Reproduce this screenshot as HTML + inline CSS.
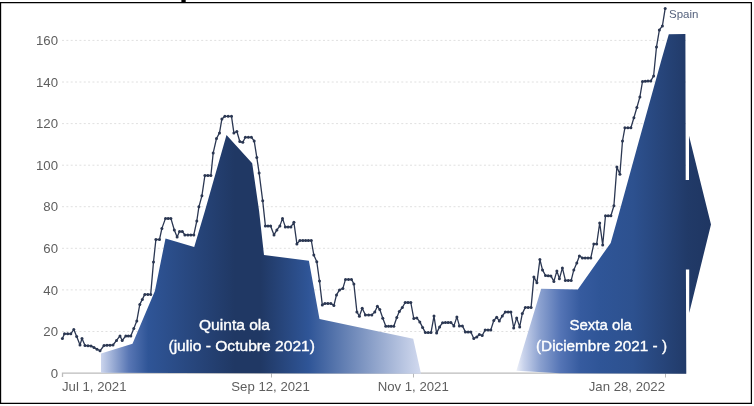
<!DOCTYPE html>
<html><head><meta charset="utf-8"><title>Spain</title>
<style>
html,body{margin:0;padding:0;background:#fff;}
body{width:754px;height:406px;overflow:hidden;position:relative;font-family:"Liberation Sans",sans-serif;}
svg{position:absolute;left:0;top:0;display:block;}
.ax text{font-family:"Liberation Sans",sans-serif;font-size:13.2px;fill:#5e5e5e;}
.wave text{font-family:"Liberation Sans",sans-serif;fill:#fff;stroke:#fff;stroke-width:0.35px;}
</style></head><body>
<svg width="754" height="406" viewBox="0 0 754 406">
<defs>
<linearGradient id="g1" gradientUnits="userSpaceOnUse" x1="100" y1="0" x2="421" y2="0">
<stop offset="0" stop-color="#cfd8ef"/>
<stop offset="0.09" stop-color="#5876b4"/>
<stop offset="0.15" stop-color="#2f5597"/>
<stop offset="0.42" stop-color="#203864"/>
<stop offset="0.5" stop-color="#203864"/>
<stop offset="0.65" stop-color="#2f5597"/>
<stop offset="1" stop-color="#d2daef"/>
</linearGradient>
<linearGradient id="g2" gradientUnits="userSpaceOnUse" x1="516" y1="0" x2="711" y2="0">
<stop offset="0" stop-color="#eef1f9"/>
<stop offset="0.04" stop-color="#c8d2eb"/>
<stop offset="0.125" stop-color="#8aa0cf"/>
<stop offset="0.23" stop-color="#5474b5"/>
<stop offset="0.33" stop-color="#365b9f"/>
<stop offset="0.43" stop-color="#2f5597"/>
<stop offset="0.6" stop-color="#2d518f"/>
<stop offset="0.88" stop-color="#213a68"/>
<stop offset="1" stop-color="#1f3662"/>
</linearGradient>
</defs>
<rect x="0" y="0" width="754" height="406" fill="#fff"/>
<g stroke="#e0e0e0" stroke-width="1" stroke-dasharray="2,2.35" fill="none"><line x1="62" x2="686" y1="331.5" y2="331.5"/><line x1="62" x2="686" y1="289.9" y2="289.9"/><line x1="62" x2="686" y1="248.3" y2="248.3"/><line x1="62" x2="686" y1="206.7" y2="206.7"/><line x1="62" x2="686" y1="165.2" y2="165.2"/><line x1="62" x2="686" y1="123.6" y2="123.6"/><line x1="62" x2="686" y1="82.0" y2="82.0"/><line x1="62" x2="686" y1="40.4" y2="40.4"/></g>
<g class="ax"><text x="58" y="377.7" text-anchor="end">0</text><text x="58" y="336.1" text-anchor="end">20</text><text x="58" y="294.5" text-anchor="end">40</text><text x="58" y="252.9" text-anchor="end">60</text><text x="58" y="211.3" text-anchor="end">80</text><text x="58" y="169.8" text-anchor="end">100</text><text x="58" y="128.2" text-anchor="end">120</text><text x="58" y="86.6" text-anchor="end">140</text><text x="58" y="45.0" text-anchor="end">160</text>
<text x="62" y="391">Jul 1, 2021</text>
<text x="270.5" y="391" text-anchor="middle">Sep 12, 2021</text>
<text x="413.2" y="391" text-anchor="middle">Nov 1, 2021</text>
<text x="665" y="391" text-anchor="end">Jan 28, 2022</text>
</g>
<path d="M62.5,377 V373.1 H686" stroke="#bcbcbc" stroke-width="1.3" fill="none"/>
<g stroke="#b8b8b8" stroke-width="1"><line x1="271.5" x2="271.5" y1="373" y2="377.5"/><line x1="413.5" x2="413.5" y1="373" y2="377.5"/><line x1="665.5" x2="665.5" y1="373" y2="377.5"/></g>
<polygon points="101.0,372.8 101.0,353.4 132.5,343.7 154.9,291.0 165.5,238.5 194.2,246.9 204.9,211.0 226.5,135.0 252.2,163.3 259.1,211.0 264.0,254.9 308.9,260.8 319.5,318.9 413.2,338.8 421.0,373.8" fill="url(#g1)"/>
<polygon points="560.0,373.2 516.4,370.8 541.2,288.8 577.8,289.4 610.7,242.9 616.9,221.0 638.9,141.0 661.4,60.0 668.8,34.2 685.4,33.9 685.7,180.0 689.0,180.0 689.0,135.8 711.0,224.5 689.2,313.0 689.2,269.6 685.9,269.6 686.3,373.8" fill="url(#g2)"/>
<path d="M62.4,338.5 L64.5,333.8 L70.8,333.8 L73.8,329.5 L76.7,336.5 L80.0,344.9 L82.0,338.5 L85.0,345.5 L91.0,345.9 L100.0,350.8 L104.0,345.5 L113.0,345.0 L120.0,335.9 L122.2,340.5 L125.8,335.9 L130.8,335.9 L136.8,320.9 L139.8,304.4 L144.8,294.4 L150.7,294.4 L153.5,261.9 L155.9,239.5 L159.5,239.5 L161.9,228.4 L165.5,218.4 L170.9,218.4 L174.3,230.0 L177.1,236.9 L179.5,231.5 L182.3,231.5 L184.9,234.9 L193.8,234.9 L196.8,221.0 L198.9,206.8 L201.9,195.8 L204.9,175.5 L210.9,175.5 L213.2,152.9 L216.5,138.5 L219.5,132.9 L221.9,118.9 L224.9,116.3 L231.5,116.3 L233.9,132.9 L236.9,131.5 L239.8,141.5 L242.8,142.3 L245.4,137.3 L251.4,137.3 L254.2,140.9 L256.8,157.4 L259.1,172.9 L262.7,200.8 L265.4,225.9 L270.6,225.9 L274.0,234.9 L276.9,229.9 L279.9,225.9 L282.5,218.4 L285.3,226.9 L290.9,226.9 L293.9,222.3 L296.9,243.9 L299.9,240.5 L311.3,240.5 L313.8,254.9 L316.8,261.8 L319.5,281.0 L322.3,304.9 L324.9,303.5 L330.9,303.5 L333.9,305.5 L336.5,294.9 L339.5,289.9 L342.9,288.4 L345.5,279.4 L351.5,279.4 L353.9,284.0 L356.9,311.9 L359.4,316.3 L362.2,308.3 L365.4,314.9 L371.8,314.9 L374.8,311.9 L377.4,306.3 L379.8,309.5 L382.8,318.3 L385.8,326.3 L393.8,326.3 L396.8,317.5 L399.3,311.5 L402.3,307.5 L405.2,302.5 L410.8,302.5 L413.8,318.6 L416.8,317.9 L419.8,321.9 L422.6,327.4 L425.4,332.6 L431.0,332.6 L434.0,316.1 L436.6,333.1 L439.6,326.9 L442.6,322.7 L450.9,322.5 L453.9,325.9 L456.9,316.9 L459.4,325.9 L462.4,325.9 L465.4,331.9 L470.8,331.9 L473.8,338.5 L476.8,336.9 L479.4,334.5 L482.2,335.5 L485.2,329.9 L490.8,329.9 L493.8,320.5 L496.7,317.3 L499.3,320.9 L502.3,315.9 L505.3,312.0 L510.9,312.0 L513.7,327.9 L516.7,317.9 L519.7,326.9 L522.3,313.6 L525.3,307.4 L531.1,307.4 L533.9,276.9 L536.9,282.8 L539.9,259.5 L542.5,269.9 L545.5,275.5 L550.9,275.9 L553.9,281.4 L556.9,270.9 L559.4,278.8 L562.4,267.9 L565.4,280.4 L571.2,280.4 L573.8,269.9 L576.8,262.9 L579.4,255.9 L582.4,257.9 L590.8,257.9 L593.8,243.9 L596.7,243.9 L599.7,223.0 L602.7,244.9 L605.5,215.8 L610.9,215.8 L613.9,205.8 L616.9,166.9 L619.9,174.3 L622.5,141.0 L624.9,127.8 L630.9,127.8 L633.9,117.8 L636.9,107.5 L639.9,96.9 L642.5,81.5 L650.8,80.9 L653.6,76.0 L656.5,46.9 L659.4,29.9 L662.4,25.9 L665.2,8.4" stroke="#2b3752" stroke-width="1.3" fill="none" stroke-linejoin="round"/>
<g fill="#2b3752"><circle cx="62.4" cy="338.5" r="1.5"/><circle cx="64.5" cy="333.8" r="1.5"/><circle cx="67.7" cy="333.8" r="1.5"/><circle cx="70.8" cy="333.8" r="1.5"/><circle cx="73.8" cy="329.5" r="1.5"/><circle cx="76.7" cy="336.5" r="1.5"/><circle cx="80.0" cy="344.9" r="1.5"/><circle cx="82.0" cy="338.5" r="1.5"/><circle cx="85.0" cy="345.5" r="1.5"/><circle cx="88.0" cy="345.7" r="1.5"/><circle cx="91.0" cy="345.9" r="1.5"/><circle cx="94.0" cy="347.5" r="1.5"/><circle cx="97.0" cy="349.2" r="1.5"/><circle cx="100.0" cy="350.8" r="1.5"/><circle cx="104.0" cy="345.5" r="1.5"/><circle cx="107.0" cy="345.3" r="1.5"/><circle cx="110.0" cy="345.2" r="1.5"/><circle cx="113.0" cy="345.0" r="1.5"/><circle cx="116.5" cy="340.4" r="1.5"/><circle cx="120.0" cy="335.9" r="1.5"/><circle cx="122.2" cy="340.5" r="1.5"/><circle cx="125.8" cy="335.9" r="1.5"/><circle cx="128.3" cy="335.9" r="1.5"/><circle cx="130.8" cy="335.9" r="1.5"/><circle cx="133.8" cy="328.4" r="1.5"/><circle cx="136.8" cy="320.9" r="1.5"/><circle cx="139.8" cy="304.4" r="1.5"/><circle cx="142.3" cy="299.4" r="1.5"/><circle cx="144.8" cy="294.4" r="1.5"/><circle cx="147.8" cy="294.4" r="1.5"/><circle cx="150.7" cy="294.4" r="1.5"/><circle cx="153.5" cy="261.9" r="1.5"/><circle cx="155.9" cy="239.5" r="1.5"/><circle cx="159.5" cy="239.5" r="1.5"/><circle cx="161.9" cy="228.4" r="1.5"/><circle cx="165.5" cy="218.4" r="1.5"/><circle cx="168.2" cy="218.4" r="1.5"/><circle cx="170.9" cy="218.4" r="1.5"/><circle cx="174.3" cy="230.0" r="1.5"/><circle cx="177.1" cy="236.9" r="1.5"/><circle cx="179.5" cy="231.5" r="1.5"/><circle cx="182.3" cy="231.5" r="1.5"/><circle cx="184.9" cy="234.9" r="1.5"/><circle cx="187.9" cy="234.9" r="1.5"/><circle cx="190.8" cy="234.9" r="1.5"/><circle cx="193.8" cy="234.9" r="1.5"/><circle cx="196.8" cy="221.0" r="1.5"/><circle cx="198.9" cy="206.8" r="1.5"/><circle cx="201.9" cy="195.8" r="1.5"/><circle cx="204.9" cy="175.5" r="1.5"/><circle cx="207.9" cy="175.5" r="1.5"/><circle cx="210.9" cy="175.5" r="1.5"/><circle cx="213.2" cy="152.9" r="1.5"/><circle cx="216.5" cy="138.5" r="1.5"/><circle cx="219.5" cy="132.9" r="1.5"/><circle cx="221.9" cy="118.9" r="1.5"/><circle cx="224.9" cy="116.3" r="1.5"/><circle cx="228.2" cy="116.3" r="1.5"/><circle cx="231.5" cy="116.3" r="1.5"/><circle cx="233.9" cy="132.9" r="1.5"/><circle cx="236.9" cy="131.5" r="1.5"/><circle cx="239.8" cy="141.5" r="1.5"/><circle cx="242.8" cy="142.3" r="1.5"/><circle cx="245.4" cy="137.3" r="1.5"/><circle cx="248.4" cy="137.3" r="1.5"/><circle cx="251.4" cy="137.3" r="1.5"/><circle cx="254.2" cy="140.9" r="1.5"/><circle cx="256.8" cy="157.4" r="1.5"/><circle cx="259.1" cy="172.9" r="1.5"/><circle cx="262.7" cy="200.8" r="1.5"/><circle cx="265.4" cy="225.9" r="1.5"/><circle cx="268.0" cy="225.9" r="1.5"/><circle cx="270.6" cy="225.9" r="1.5"/><circle cx="274.0" cy="234.9" r="1.5"/><circle cx="276.9" cy="229.9" r="1.5"/><circle cx="279.9" cy="225.9" r="1.5"/><circle cx="282.5" cy="218.4" r="1.5"/><circle cx="285.3" cy="226.9" r="1.5"/><circle cx="288.1" cy="226.9" r="1.5"/><circle cx="290.9" cy="226.9" r="1.5"/><circle cx="293.9" cy="222.3" r="1.5"/><circle cx="296.9" cy="243.9" r="1.5"/><circle cx="299.9" cy="240.5" r="1.5"/><circle cx="302.8" cy="240.5" r="1.5"/><circle cx="305.6" cy="240.5" r="1.5"/><circle cx="308.4" cy="240.5" r="1.5"/><circle cx="311.3" cy="240.5" r="1.5"/><circle cx="313.8" cy="254.9" r="1.5"/><circle cx="316.8" cy="261.8" r="1.5"/><circle cx="319.5" cy="281.0" r="1.5"/><circle cx="322.3" cy="304.9" r="1.5"/><circle cx="324.9" cy="303.5" r="1.5"/><circle cx="327.9" cy="303.5" r="1.5"/><circle cx="330.9" cy="303.5" r="1.5"/><circle cx="333.9" cy="305.5" r="1.5"/><circle cx="336.5" cy="294.9" r="1.5"/><circle cx="339.5" cy="289.9" r="1.5"/><circle cx="342.9" cy="288.4" r="1.5"/><circle cx="345.5" cy="279.4" r="1.5"/><circle cx="348.5" cy="279.4" r="1.5"/><circle cx="351.5" cy="279.4" r="1.5"/><circle cx="353.9" cy="284.0" r="1.5"/><circle cx="356.9" cy="311.9" r="1.5"/><circle cx="359.4" cy="316.3" r="1.5"/><circle cx="362.2" cy="308.3" r="1.5"/><circle cx="365.4" cy="314.9" r="1.5"/><circle cx="368.6" cy="314.9" r="1.5"/><circle cx="371.8" cy="314.9" r="1.5"/><circle cx="374.8" cy="311.9" r="1.5"/><circle cx="377.4" cy="306.3" r="1.5"/><circle cx="379.8" cy="309.5" r="1.5"/><circle cx="382.8" cy="318.3" r="1.5"/><circle cx="385.8" cy="326.3" r="1.5"/><circle cx="388.5" cy="326.3" r="1.5"/><circle cx="391.1" cy="326.3" r="1.5"/><circle cx="393.8" cy="326.3" r="1.5"/><circle cx="396.8" cy="317.5" r="1.5"/><circle cx="399.3" cy="311.5" r="1.5"/><circle cx="402.3" cy="307.5" r="1.5"/><circle cx="405.2" cy="302.5" r="1.5"/><circle cx="408.0" cy="302.5" r="1.5"/><circle cx="410.8" cy="302.5" r="1.5"/><circle cx="413.8" cy="318.6" r="1.5"/><circle cx="416.8" cy="317.9" r="1.5"/><circle cx="419.8" cy="321.9" r="1.5"/><circle cx="422.6" cy="327.4" r="1.5"/><circle cx="425.4" cy="332.6" r="1.5"/><circle cx="428.2" cy="332.6" r="1.5"/><circle cx="431.0" cy="332.6" r="1.5"/><circle cx="434.0" cy="316.1" r="1.5"/><circle cx="436.6" cy="333.1" r="1.5"/><circle cx="439.6" cy="326.9" r="1.5"/><circle cx="442.6" cy="322.7" r="1.5"/><circle cx="445.4" cy="322.6" r="1.5"/><circle cx="448.1" cy="322.6" r="1.5"/><circle cx="450.9" cy="322.5" r="1.5"/><circle cx="453.9" cy="325.9" r="1.5"/><circle cx="456.9" cy="316.9" r="1.5"/><circle cx="459.4" cy="325.9" r="1.5"/><circle cx="462.4" cy="325.9" r="1.5"/><circle cx="465.4" cy="331.9" r="1.5"/><circle cx="468.1" cy="331.9" r="1.5"/><circle cx="470.8" cy="331.9" r="1.5"/><circle cx="473.8" cy="338.5" r="1.5"/><circle cx="476.8" cy="336.9" r="1.5"/><circle cx="479.4" cy="334.5" r="1.5"/><circle cx="482.2" cy="335.5" r="1.5"/><circle cx="485.2" cy="329.9" r="1.5"/><circle cx="488.0" cy="329.9" r="1.5"/><circle cx="490.8" cy="329.9" r="1.5"/><circle cx="493.8" cy="320.5" r="1.5"/><circle cx="496.7" cy="317.3" r="1.5"/><circle cx="499.3" cy="320.9" r="1.5"/><circle cx="502.3" cy="315.9" r="1.5"/><circle cx="505.3" cy="312.0" r="1.5"/><circle cx="508.1" cy="312.0" r="1.5"/><circle cx="510.9" cy="312.0" r="1.5"/><circle cx="513.7" cy="327.9" r="1.5"/><circle cx="516.7" cy="317.9" r="1.5"/><circle cx="519.7" cy="326.9" r="1.5"/><circle cx="522.3" cy="313.6" r="1.5"/><circle cx="525.3" cy="307.4" r="1.5"/><circle cx="528.2" cy="307.4" r="1.5"/><circle cx="531.1" cy="307.4" r="1.5"/><circle cx="533.9" cy="276.9" r="1.5"/><circle cx="536.9" cy="282.8" r="1.5"/><circle cx="539.9" cy="259.5" r="1.5"/><circle cx="542.5" cy="269.9" r="1.5"/><circle cx="545.5" cy="275.5" r="1.5"/><circle cx="548.2" cy="275.7" r="1.5"/><circle cx="550.9" cy="275.9" r="1.5"/><circle cx="553.9" cy="281.4" r="1.5"/><circle cx="556.9" cy="270.9" r="1.5"/><circle cx="559.4" cy="278.8" r="1.5"/><circle cx="562.4" cy="267.9" r="1.5"/><circle cx="565.4" cy="280.4" r="1.5"/><circle cx="568.3" cy="280.4" r="1.5"/><circle cx="571.2" cy="280.4" r="1.5"/><circle cx="573.8" cy="269.9" r="1.5"/><circle cx="576.8" cy="262.9" r="1.5"/><circle cx="579.4" cy="255.9" r="1.5"/><circle cx="582.4" cy="257.9" r="1.5"/><circle cx="585.2" cy="257.9" r="1.5"/><circle cx="588.0" cy="257.9" r="1.5"/><circle cx="590.8" cy="257.9" r="1.5"/><circle cx="593.8" cy="243.9" r="1.5"/><circle cx="596.7" cy="243.9" r="1.5"/><circle cx="599.7" cy="223.0" r="1.5"/><circle cx="602.7" cy="244.9" r="1.5"/><circle cx="605.5" cy="215.8" r="1.5"/><circle cx="608.2" cy="215.8" r="1.5"/><circle cx="610.9" cy="215.8" r="1.5"/><circle cx="613.9" cy="205.8" r="1.5"/><circle cx="616.9" cy="166.9" r="1.5"/><circle cx="619.9" cy="174.3" r="1.5"/><circle cx="622.5" cy="141.0" r="1.5"/><circle cx="624.9" cy="127.8" r="1.5"/><circle cx="627.9" cy="127.8" r="1.5"/><circle cx="630.9" cy="127.8" r="1.5"/><circle cx="633.9" cy="117.8" r="1.5"/><circle cx="636.9" cy="107.5" r="1.5"/><circle cx="639.9" cy="96.9" r="1.5"/><circle cx="642.5" cy="81.5" r="1.5"/><circle cx="645.3" cy="81.3" r="1.5"/><circle cx="648.0" cy="81.1" r="1.5"/><circle cx="650.8" cy="80.9" r="1.5"/><circle cx="653.6" cy="76.0" r="1.5"/><circle cx="656.5" cy="46.9" r="1.5"/><circle cx="659.4" cy="29.9" r="1.5"/><circle cx="662.4" cy="25.9" r="1.5"/><circle cx="665.2" cy="8.4" r="1.5"/></g>
<text x="669" y="18.4" font-family="Liberation Sans, sans-serif" font-size="11.5" fill="#55627d">Spain</text>
<g class="wave">
<text x="234.5" y="330.2" text-anchor="middle" font-size="14.6" textLength="71" lengthAdjust="spacingAndGlyphs">Quinta ola</text>
<text x="241.7" y="350.8" text-anchor="middle" font-size="14.6" textLength="146.5" lengthAdjust="spacingAndGlyphs">(julio - Octubre 2021)</text>
<text x="600.7" y="330.2" text-anchor="middle" font-size="14.6" textLength="62.5" lengthAdjust="spacingAndGlyphs">Sexta ola</text>
<text x="601.5" y="350.8" text-anchor="middle" font-size="14.6" textLength="131" lengthAdjust="spacingAndGlyphs">(Diciembre 2021 - )</text>
</g>
<rect x="181.4" y="0" width="4.3" height="2.5" fill="#000"/>
<path d="M0.55,2.6 H751.4 V403.25 H0.55 Z" fill="none" stroke="#000" stroke-width="1.25"/>
</svg>
</body></html>
